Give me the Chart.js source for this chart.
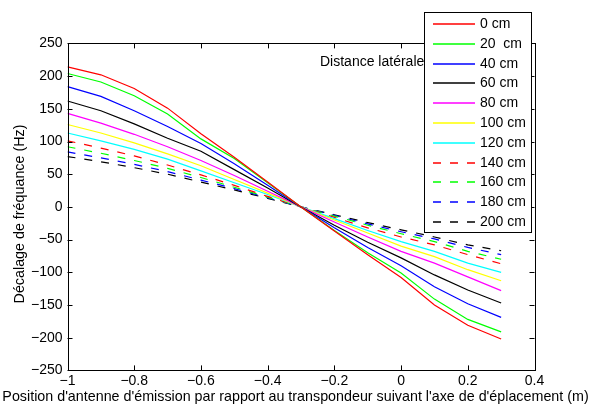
<!DOCTYPE html>
<html><head><meta charset="utf-8">
<script src="https://cdn.jsdelivr.net/npm/chart.js@4/dist/chart.umd.min.js"></script>
<style>html,body{margin:0;padding:0;background:#fff}canvas{display:block}</style>
</head><body>
<canvas id="c" width="591" height="408"></canvas>
<script>
const xPositions = [-1, -0.9, -0.8, -0.7, -0.6, -0.5, -0.4, -0.3, -0.2, -0.1, 0, 0.1, 0.2, 0.3];
const seriesLabels = ['0 cm', '20  cm', '40 cm', '60 cm', '80 cm', '100 cm', '120 cm', '140 cm', '160 cm', '180 cm', '200 cm'];
const d0   = [214, 202, 181, 151, 112, 76, 38, 0, -37, -73, -108, -150, -181, -202];
const d20  = [204, 191, 170, 142, 104, 74, 37, 0, -36, -70, -101, -141, -172, -191];
const d40  = [184, 169, 147, 123, 97, 66, 33, 0, -32, -62, -90, -122, -148, -169];
const d60  = [162, 147, 127, 105, 85, 57, 29, 0, -28, -54, -78, -104, -127, -147];
const d80  = [143, 128, 111, 92, 71, 48, 24, 0, -23, -46, -68, -86, -107, -128];
const d100 = [126, 113, 98, 81, 63, 42, 21, 0, -20, -40, -60, -76, -96, -113];
const d120 = [113, 101, 88, 73, 55, 37, 19, 0, -18, -36, -53, -68, -86, -100];
const d140 = [101, 90, 78, 64, 49, 33, 16, 0, -16, -32, -46, -58, -73, -87];
const d160 = [92, 82, 71, 59, 45, 30, 15, 0, -14, -28, -41, -53, -68, -80];
const d180 = [84, 75, 65, 54, 41, 28, 14, 0, -13, -26, -38, -49, -62, -73];
const d200 = [77, 69, 60, 50, 38, 26, 13, 0, -12, -24, -35, -46, -58, -67];
const seriesValues = [d0, d20, d40, d60, d80, d100, d120, d140, d160, d180, d200];
const seriesColors = ['#ff0000', '#00ff00', '#0000ff', '#000000', '#ff00ff', '#ffff00', '#00ffff', '#ff0000', '#00ff00', '#0000ff', '#000000'];
const seriesDashed = [false, false, false, false, false, false, false, true, true, true, true];
const xTicks = [-1, -0.8, -0.6, -0.4, -0.2, 0, 0.2, 0.4];
const yTicks = [-250, -200, -150, -100, -50, 0, 50, 100, 150, 200, 250];
const xTitle = "Position d'antenne d'émission par rapport au transpondeur suivant l'axe de d'éplacement (m)";
const yTitle = "Décalage de fréquance (Hz)";
const innerTitle = "Distance latérale";

const FONT = '"Liberation Sans", Arial, Helvetica, sans-serif';
const DASH = [8, 9];

const datasets = seriesValues.map((vals, i) => ({
  label: seriesLabels[i],
  data: xPositions.map((x, j) => ({x: x, y: vals[j]})),
  borderColor: seriesColors[i],
  backgroundColor: seriesColors[i],
  borderWidth: 1.2,
  borderDash: seriesDashed[i] ? DASH : [],
  pointRadius: 0,
  tension: 0,
  fill: false
}));

const fmt = v => {
  const r = Math.round(v * 1000) / 1000;
  return String(r).replace('-', '\u2212');
};

const frame = {
  id: 'frame',
  afterDatasetsDraw(chart) {
    const {ctx, chartArea: a, scales} = chart;
    ctx.save();
    ctx.strokeStyle = '#000';
    ctx.lineWidth = 1;
    ctx.setLineDash([]);
    ctx.strokeRect(Math.round(a.left) + 0.5, Math.round(a.top) + 0.5, Math.round(a.right - a.left), Math.round(a.bottom - a.top));
    const tl = 5;
    ctx.beginPath();
    xTicks.forEach(v => {
      const px = Math.round(scales.x.getPixelForValue(v)) + 0.5;
      ctx.moveTo(px, a.bottom); ctx.lineTo(px, a.bottom - tl);
      ctx.moveTo(px, a.top); ctx.lineTo(px, a.top + tl);
    });
    yTicks.forEach(v => {
      const py = Math.round(scales.y.getPixelForValue(v)) + 0.5;
      ctx.moveTo(a.left, py); ctx.lineTo(a.left + tl, py);
      ctx.moveTo(a.right, py); ctx.lineTo(a.right - tl, py);
    });
    ctx.stroke();
    // inner title text
    ctx.fillStyle = '#000';
    ctx.font = '14px ' + FONT;
    ctx.textAlign = 'left';
    ctx.textBaseline = 'middle';
    ctx.fillText(innerTitle, 320, 62);
    // axis titles
    ctx.font = '14.3px ' + FONT;
    ctx.textAlign = 'center';
    ctx.textBaseline = 'middle';
    ctx.fillText(xTitle, 295.5, 397);
    ctx.save();
    ctx.translate(20, 214);
    ctx.rotate(-Math.PI / 2);
    ctx.fillText(yTitle, 0, 0);
    ctx.restore();
    // legend
    const lx = 424.5, ly = 12.5, lw = 107, lh = 220;
    ctx.fillStyle = '#fff';
    ctx.fillRect(lx, ly, lw, lh);
    ctx.strokeStyle = '#000';
    ctx.lineWidth = 1;
    ctx.strokeRect(lx, ly, lw, lh);
    ctx.font = '14px ' + FONT;
    ctx.textAlign = 'left';
    chart.data.datasets.forEach((ds, i) => {
      const y = Math.round(24 + i * 19.8);
      ctx.strokeStyle = seriesColors[i];
      ctx.lineWidth = 1.4;
      ctx.setLineDash(seriesDashed[i] ? DASH : []);
      ctx.beginPath();
      ctx.moveTo(433, y); ctx.lineTo(475, y);
      ctx.stroke();
      ctx.setLineDash([]);
      ctx.fillStyle = '#000';
      ctx.fillText(ds.label, 480, y);
    });
    ctx.restore();
  }
};

new Chart(document.getElementById('c'), {
  type: 'line',
  data: {datasets},
  options: {
    responsive: false,
    animation: false,
    devicePixelRatio: 1,
    layout: {padding: {left: 0, right: 56.5, top: 43.4, bottom: 0}},
    plugins: {legend: {display: false}, tooltip: {enabled: false}, title: {display: false}},
    scales: {
      x: {
        type: 'linear', min: -1, max: 0.4,
        afterFit(s) { s.height = 37.6; },
        afterBuildTicks(s) { s.ticks = xTicks.map(v => ({value: v})); },
        grid: {display: false, drawTicks: false},
        border: {display: false},
        ticks: {padding: 2, color: '#000', font: {family: FONT, size: 14}, maxRotation: 0, autoSkip: false, callback: fmt}
      },
      y: {
        type: 'linear', min: -250, max: 250,
        afterFit(s) { s.width = 67.5; },
        afterBuildTicks(s) { s.ticks = yTicks.map(v => ({value: v})); },
        grid: {display: false, drawTicks: false},
        border: {display: false},
        ticks: {padding: 5, color: '#000', font: {family: FONT, size: 14}, autoSkip: false, callback: fmt}
      }
    }
  },
  plugins: [frame]
});
</script>
</body></html>
